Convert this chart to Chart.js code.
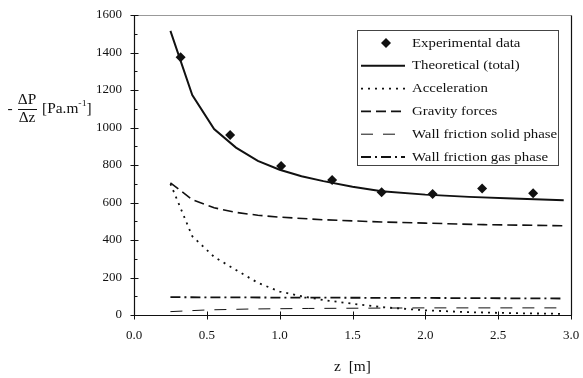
<!DOCTYPE html>
<html>
<head>
<meta charset="utf-8">
<script src="https://cdn.jsdelivr.net/npm/chart.js@4.4.1/dist/chart.umd.min.js"></script>
<style>
  html, body { margin: 0; padding: 0; background: #fff; }
  canvas { display: block; }
</style>
</head>
<body>
<canvas id="chart" width="583" height="378"></canvas>
<script>
// pressure gradient along the riser, z in m, values in Pa/m
const expZ = [0.32, 0.66, 1.01, 1.36, 1.70, 2.05, 2.39, 2.74];
const expDP = [1375, 960, 795, 720, 655, 645, 675, 650];

const totalZ = [0.25, 0.4, 0.55, 0.7, 0.85, 1.0, 1.15, 1.3, 1.5, 1.7, 2.0, 2.3, 2.6, 2.95];
const totalDP = [1515, 1173, 992, 893, 822, 775, 740, 714, 684, 660, 642, 630, 621, 612];

const accelZ = [0.25, 0.4, 0.55, 0.7, 0.85, 1.0, 1.15, 1.3, 1.5, 1.7, 2.0, 2.3, 2.6, 2.95];
const accelDP = [700, 420, 310, 240, 172, 125, 100, 80, 60, 42, 25, 15, 10, 6];

const gravZ = [0.25, 0.4, 0.55, 0.7, 0.85, 1.0, 1.3, 1.7, 2.0, 2.4, 2.95];
const gravDP = [705, 615, 572, 547, 532, 522, 508, 496, 490, 482, 476];

const solidZ = [0.25, 0.5, 0.8, 1.2, 2.0, 2.95];
const solidDP = [18, 27, 32, 35, 38, 38];

const gasZ = [0.25, 1.0, 2.0, 2.95];
const gasDP = [95, 93, 91, 88];

const xTicks = [0, 0.5, 1.0, 1.5, 2.0, 2.5, 3.0];
const yTicks = [0, 200, 400, 600, 800, 1000, 1200, 1400, 1600];

const FONT = '"Liberation Serif", "Times New Roman", serif';
const INK = '#111';
const SX = 1.1; // titles and legend text are set a little wide

const pts = (xs, ys) => xs.map((x, i) => ({ x: x, y: ys[i] }));

const lineSet = (label, xs, ys, dash, width) => ({
  label: label,
  data: pts(xs, ys),
  showLine: true,
  borderColor: INK,
  borderWidth: width,
  borderDash: dash,
  pointRadius: 0,
  tension: 0,
  fill: false
});

const datasets = [
  {
    label: 'Experimental data',
    data: pts(expZ, expDP),
    showLine: false,
    pointStyle: 'rectRot',
    pointRadius: 5,
    backgroundColor: INK,
    borderColor: INK,
    borderWidth: 0
  },
  lineSet('Theoretical (total)', totalZ, totalDP, [], 2),
  lineSet('Acceleration', accelZ, accelDP, [2, 5], 1.8),
  lineSet('Gravity forces', gravZ, gravDP, [10, 5], 1.6),
  lineSet('Wall friction solid phase', solidZ, solidDP, [12, 10], 1),
  lineSet('Wall friction gas phase', gasZ, gasDP, [10, 4, 2, 4], 1.8)
];

// draws text stretched horizontally by SX, returns its drawn width
function wideText(ctx, text, x, y, align) {
  const w = ctx.measureText(text).width * SX;
  let left = x;
  if (align === 'center') left = x - w / 2;
  if (align === 'right') left = x - w;
  ctx.save();
  ctx.textAlign = 'left';
  ctx.translate(left, y);
  ctx.scale(SX, 1);
  ctx.fillText(text, 0, 0);
  ctx.restore();
  return w;
}

// frame, crossing tick marks, axis titles and the boxed legend
const decor = {
  id: 'decor',
  afterDraw(chart) {
    const { ctx, chartArea: a, scales } = chart;
    const sx = scales.x, sy = scales.y;
    const L = Math.round(a.left) + 0.5, R = Math.round(a.right) + 0.5;
    const T = Math.round(a.top) + 0.5, B = Math.round(a.bottom) + 0.5;
    ctx.save();

    ctx.lineWidth = 1;
    ctx.strokeStyle = '#999';
    ctx.beginPath();
    ctx.moveTo(L, T); ctx.lineTo(R, T);
    ctx.stroke();

    ctx.strokeStyle = INK;
    ctx.lineWidth = 1.2;
    ctx.beginPath();
    ctx.moveTo(L, T); ctx.lineTo(L, B); ctx.lineTo(R, B);
    ctx.moveTo(R, T); ctx.lineTo(R, B);
    ctx.stroke();

    ctx.lineWidth = 1;
    ctx.beginPath();
    yTicks.forEach(v => {
      const py = Math.round(sy.getPixelForValue(v)) + 0.5;
      ctx.moveTo(L - 4, py); ctx.lineTo(L + 4, py);
    });
    for (let v = 100; v < 1600; v += 200) {
      const py = Math.round(sy.getPixelForValue(v)) + 0.5;
      ctx.moveTo(L, py); ctx.lineTo(L + 3, py);
    }
    xTicks.forEach(v => {
      const px = Math.round(sx.getPixelForValue(v)) + 0.5;
      ctx.moveTo(px, B - 4); ctx.lineTo(px, B + 4);
    });
    ctx.stroke();

    // y title:  - ΔP/Δz [Pa.m-1]
    ctx.fillStyle = INK;
    ctx.font = '14px ' + FONT;
    ctx.textBaseline = 'middle';
    wideText(ctx, '-', 10, 109, 'center');
    wideText(ctx, '\u0394P', 27, 100, 'center');
    wideText(ctx, '\u0394z', 27, 118, 'center');
    ctx.beginPath();
    ctx.moveTo(18, 109.5); ctx.lineTo(37, 109.5);
    ctx.stroke();
    let tx = 42;
    tx += wideText(ctx, '[Pa.m', tx, 109, 'left');
    ctx.font = '9px ' + FONT;
    tx += wideText(ctx, '-1', tx, 104, 'left');
    ctx.font = '14px ' + FONT;
    wideText(ctx, ']', tx, 109, 'left');

    // x title
    wideText(ctx, 'z  [m]', (a.left + a.right) / 2, 367, 'center');

    // legend
    const bx = 357.5, by = 30.5, bw = 201, bh = 135;
    ctx.strokeStyle = '#444';
    ctx.lineWidth = 1;
    ctx.strokeRect(bx, by, bw, bh);
    ctx.font = '13.5px ' + FONT;
    chart.data.datasets.forEach((ds, i) => {
      const ry = 43 + i * 22.8;
      if (ds.showLine === false) {
        ctx.fillStyle = INK;
        ctx.beginPath();
        ctx.moveTo(386, ry - 5); ctx.lineTo(391, ry); ctx.lineTo(386, ry + 5); ctx.lineTo(381, ry);
        ctx.closePath();
        ctx.fill();
      } else {
        ctx.strokeStyle = INK;
        ctx.lineWidth = ds.borderWidth;
        ctx.setLineDash(ds.borderDash);
        ctx.beginPath();
        ctx.moveTo(361, ry); ctx.lineTo(405, ry);
        ctx.stroke();
        ctx.setLineDash([]);
      }
      ctx.fillStyle = INK;
      wideText(ctx, ds.label, 412, ry, 'left');
    });
    ctx.restore();
  }
};

new Chart(document.getElementById('chart'), {
  type: 'line',
  data: { datasets: datasets },
  plugins: [decor],
  options: {
    responsive: false,
    animation: false,
    devicePixelRatio: 1,
    layout: { padding: { top: 15, right: 12, left: 0, bottom: 0 } },
    plugins: {
      legend: { display: false },
      tooltip: { enabled: false }
    },
    scales: {
      x: {
        type: 'linear',
        min: 0,
        max: 3,
        grid: { display: false, drawTicks: false },
        border: { display: false },
        ticks: {
          stepSize: 0.5,
          padding: 13,
          color: INK,
          font: { family: FONT, size: 13 },
          callback: v => v.toFixed(1)
        },
        afterFit: s => {
          s.height = 63;
          s.paddingLeft = 0;
          s.paddingRight = 0;
        }
      },
      y: {
        min: 0,
        max: 1600,
        grid: { display: false, drawTicks: false },
        border: { display: false },
        ticks: {
          stepSize: 200,
          padding: 12,
          color: INK,
          font: { family: FONT, size: 13 },
          callback: v => String(v)
        },
        afterFit: s => {
          s.width = 134;
          s.paddingTop = 0;
          s.paddingBottom = 0;
        }
      }
    }
  }
});
</script>
</body>
</html>
